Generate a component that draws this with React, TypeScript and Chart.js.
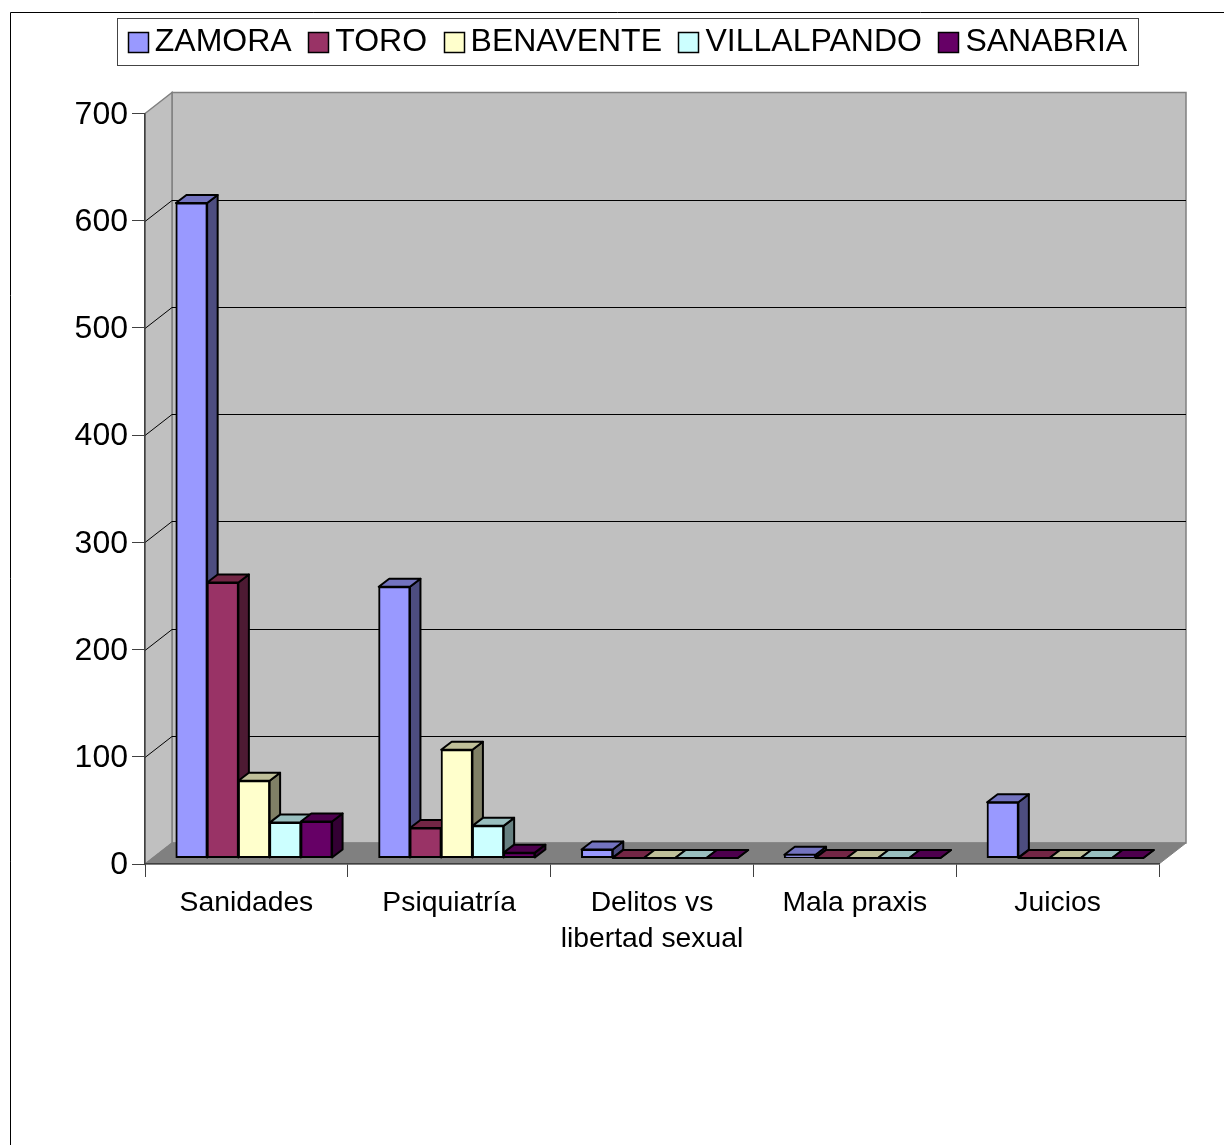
import React, { useEffect, useRef } from "react";
import { Chart, registerables } from "chart.js";

Chart.register(...registerables);

const categories: (string | string[])[] = ["Sanidades", "Psiquiatría", ["Delitos vs", "libertad sexual"], "Mala praxis", "Juicios"];
const seriesNames = ["ZAMORA", "TORO", "BENAVENTE", "VILLALPANDO", "SANABRIA"];
const zamora = [611, 253, 8, 3, 52];
const toro = [257, 28, 0, 0, 0];
const benavente = [72, 101, 0, 0, 0];
const villalpando = [33, 30, 0, 0, 0];
const sanabria = [34, 5, 0, 0, 0];
const yTicks = [0, 100, 200, 300, 400, 500, 600, 700];

const frontColors = ["#9999FF", "#993366", "#FFFFCC", "#CCFFFF", "#660066"];
const topColors = ["#7373BF", "#732645", "#BFBF99", "#99BFBF", "#4D004D"];
const sideColors = ["#4D4D80", "#4D1A33", "#808066", "#668080", "#330033"];

const FONT = "'Liberation Sans', Arial, sans-serif";
const WALL_DX = 27;
const WALL_DY = -21;
const BAR_DX = 7.6;
const BAR_DY = -6;
const DEPTH_DX = 10.5;
const DEPTH_DY = -8;

const poly = (ctx: CanvasRenderingContext2D, pts: number[][], fill: string, stroke: string, lw: number) => {
  ctx.beginPath();
  pts.forEach((p, i) => (i ? ctx.lineTo(p[0], p[1]) : ctx.moveTo(p[0], p[1])));
  ctx.closePath();
  ctx.fillStyle = fill;
  ctx.fill();
  ctx.strokeStyle = stroke;
  ctx.lineWidth = lw;
  ctx.stroke();
};

const box3d = {
  id: "box3d",
  afterLayout(chart: any) {
    const lg = chart.legend;
    const h = lg.height;
    lg.left = 95;
    lg.top = 11;
    lg.bottom = 11 + h;
    chart.scales.y.getLabelItems().forEach((item: any) => {
      item.options.translation = [item.options.translation[0], item.options.translation[1] + 1.5];
    });
  },
  beforeDraw(chart: any) {
    const { ctx, chartArea: a, scales } = chart;
    const y = scales.y;
    const L = a.left, R = a.right, T = a.top, B = a.bottom;
    const dx = WALL_DX, dy = WALL_DY;
    ctx.save();
    // outer frame
    ctx.strokeStyle = "#000";
    ctx.lineWidth = 1;
    ctx.beginPath();
    ctx.moveTo(10.5, 1145);
    ctx.lineTo(10.5, 12.5);
    ctx.lineTo(1224, 12.5);
    ctx.stroke();
    // walls and floor
    poly(ctx, [[L + dx, T + dy], [R + dx, T + dy], [R + dx, B + dy], [L + dx, B + dy]], "#C0C0C0", "#808080", 1.5);
    poly(ctx, [[L, T], [L + dx, T + dy], [L + dx, B + dy], [L, B]], "#C0C0C0", "#808080", 1.5);
    poly(ctx, [[L, B], [L + dx, B + dy], [R + dx, B + dy], [R, B]], "#808080", "#808080", 1);
    // gridlines on wall
    ctx.strokeStyle = "#000";
    ctx.lineWidth = 1;
    yTicks.slice(1, -1).forEach((v) => {
      const py = Math.round(y.getPixelForValue(v)) + 0.5;
      ctx.beginPath();
      ctx.moveTo(L, py);
      ctx.lineTo(L + dx, py + dy);
      ctx.lineTo(R + dx, py + dy);
      ctx.stroke();
    });
    ctx.restore();
  },
  beforeDatasetsDraw(chart: any) {
    const { ctx } = chart;
    const count = chart.data.datasets.length;
    ctx.save();
    ctx.translate(BAR_DX, BAR_DY);
    categories.forEach((_, c) => {
      for (let d = 0; d < count; d++) {
        const bar = chart.getDatasetMeta(d).data[c];
        const p = bar.getProps(["x", "y", "base", "width"], true);
        const x0 = p.x - p.width / 2, x1 = p.x + p.width / 2;
        const yt = p.y, yb = p.base;
        ctx.lineJoin = "round";
        poly(ctx, [[x1, yb], [x1 + DEPTH_DX, yb + DEPTH_DY], [x1 + DEPTH_DX, yt + DEPTH_DY], [x1, yt]], sideColors[d], "#000", 2);
        poly(ctx, [[x0, yt], [x0 + DEPTH_DX, yt + DEPTH_DY], [x1 + DEPTH_DX, yt + DEPTH_DY], [x1, yt]], topColors[d], "#000", 2);
        bar.draw(ctx);
      }
    });
    ctx.restore();
    return false;
  },
  afterDraw(chart: any) {
    const { ctx, legend } = chart;
    ctx.save();
    ctx.strokeStyle = "#444";
    ctx.lineWidth = 1;
    ctx.strokeRect(117.5, 18.5, 1021, 47);
    legend.legendHitBoxes.forEach((h: any, i: number) => {
      const bx = Math.round(h.left + 1) + 0.5;
      const by = Math.round(h.top + 5) + 0.5;
      ctx.fillStyle = frontColors[i];
      ctx.fillRect(bx, by, 20, 20);
      ctx.strokeStyle = "#000";
      ctx.lineWidth = 1.5;
      ctx.strokeRect(bx, by, 20, 20);
    });
    ctx.restore();
  },
};

const values = [zamora, toro, benavente, villalpando, sanabria];

export default function App() {
  const ref = useRef<HTMLCanvasElement>(null);
  useEffect(() => {
    const chart = new Chart(ref.current as HTMLCanvasElement, {
      type: "bar",
      data: {
        labels: categories as any,
        datasets: seriesNames.map((name, i) => ({
          label: name,
          data: values[i],
          backgroundColor: frontColors[i],
          borderColor: "#000",
          borderWidth: 2,
          borderSkipped: false,
          inflateAmount: 0.5,
          barPercentage: 1,
          categoryPercentage: 0.77,
        })),
      },
      options: {
        animation: false,
        responsive: false,
        devicePixelRatio: 1,
        layout: { padding: { left: 60, right: 65, top: 56, bottom: 0 } },
        plugins: {
          tooltip: { enabled: false },
          legend: {
            display: true,
            position: "top",
            labels: {
              boxWidth: 12,
              boxHeight: 20,
              padding: 15.5,
              color: "#000",
              font: { family: FONT, size: 32 },
              generateLabels: (c: any) =>
                c.data.datasets.map((ds: any, i: number) => ({
                  text: ds.label,
                  fillStyle: "transparent",
                  strokeStyle: "transparent",
                  lineWidth: 0,
                  hidden: false,
                  datasetIndex: i,
                })),
            },
          },
        },
        scales: {
          x: {
            type: "category",
            afterFit: (s: any) => {
              s.height = 281;
            },
            grid: { display: true, drawOnChartArea: false, drawTicks: true, tickLength: 13, tickColor: "#404040", offset: true },
            border: { display: true, color: "#404040", width: 1.5 },
            ticks: {
              color: "#000",
              font: { family: FONT, size: 28.3, lineHeight: 1.272 },
              padding: 8,
              autoSkip: false,
              maxRotation: 0,
              minRotation: 0,
            },
          },
          y: {
            type: "linear",
            min: 0,
            max: 700,
            afterFit: (s: any) => {
              s.width = 85;
            },
            grid: { display: true, drawOnChartArea: false, drawTicks: true, tickLength: 13, tickColor: "#404040" },
            border: { display: true, color: "#404040", width: 1.5 },
            ticks: {
              stepSize: 100,
              color: "#000",
              font: { family: FONT, size: 32 },
              padding: 4,
            },
          },
        },
      },
      plugins: [box3d],
    } as any);
    return () => chart.destroy();
  }, []);
  return (
    <div style={{ position: "absolute", left: 0, top: 0, width: 1224, height: 1145, overflow: "hidden", background: "#fff" }}>
      <canvas ref={ref} width={1224} height={1145} style={{ display: "block" }} />
    </div>
  );
}
